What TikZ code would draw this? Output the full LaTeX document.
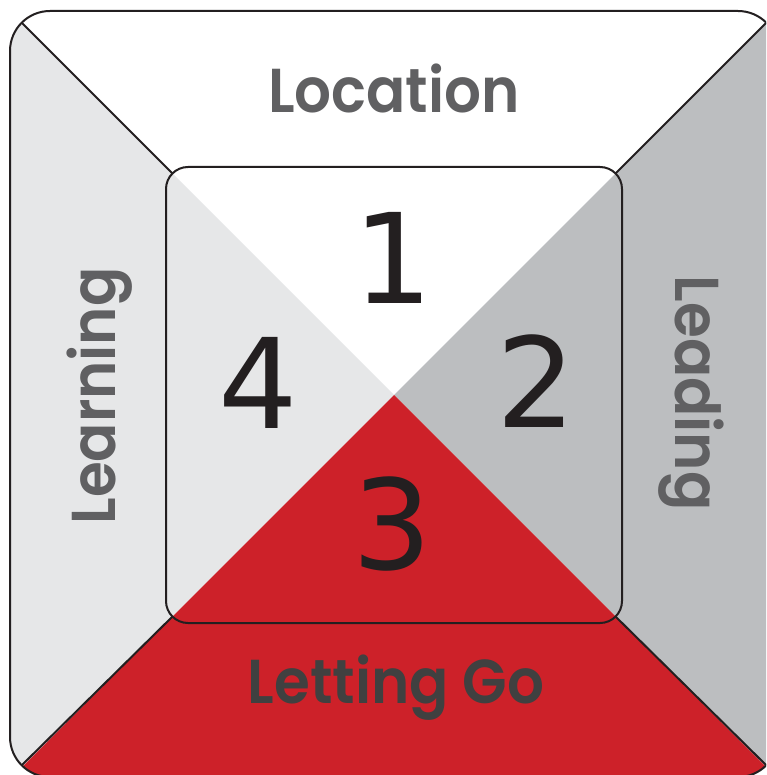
\documentclass[tikz,border=0pt]{standalone}
\usepackage{fontspec}
\newfontfamily\labfont{Poppins}[BoldFont={Poppins SemiBold}, FakeStretch=0.935]
\newfontfamily\numfont{DejaVu Sans}
\definecolor{ink}{HTML}{231F20}
\definecolor{lgray}{HTML}{E6E7E8}
\definecolor{mgray}{HTML}{BCBEC0}
\definecolor{redq}{HTML}{CD2129}
\definecolor{labgray}{HTML}{606062}
\definecolor{labdark}{HTML}{404040}
\begin{document}
\begin{tikzpicture}[x=1pt,y=-1pt,
  outline/.style={draw=ink,line width=2pt},
  lab/.style={font=\labfont\bfseries\fontsize{62}{62}\selectfont, text=labgray, inner sep=0pt, anchor=base},
  num/.style={font=\numfont\fontsize{125}{125}\selectfont, text=ink, inner sep=0pt, anchor=base}]
\useasboundingbox (0,0) rectangle (766,775);
\clip (0,0) rectangle (766,775);
\coordinate (C) at (394,395);
\begin{scope}
  \clip[rounded corners=40pt] (10,11) rectangle (778,777);
  \fill[white] (C) -- ++(-600,-600) -- ++(1200,0) -- cycle;
  \fill[lgray] (C) -- ++(-600,-600) -- ++(0,1200) -- cycle;
  \fill[mgray] (C) -- ++(600,-600) -- ++(0,1200) -- cycle;
  \fill[redq] (C) -- ++(-600,600) -- ++(1200,0) -- cycle;
\end{scope}
\coordinate (oTL) at (21.7,22.7);
\coordinate (iTL) at (172.4,173.4);
\coordinate (oTR) at (766.3,22.7);
\coordinate (iTR) at (615.6,173.4);
\coordinate (oBL) at (21.7,765.3);
\coordinate (iBL) at (172.4,616.6);
\coordinate (oBR) at (766.3,765.3);
\coordinate (iBR) at (615.6,616.6);
\draw[outline] (oTL) -- (iTL);
\draw[outline] (oTR) -- (iTR);
\draw[outline] (oBL) -- (iBL);
\draw[outline] (oBR) -- (iBR);
\draw[outline, rounded corners=40pt] (10,11) rectangle (778,777);
\draw[outline, rounded corners=22pt] (166,167) rectangle (622,623);
\node[lab] (loc) at (394,113) {Location};
\node[lab, text=labdark] (let) at (396,703) {Letting Go};
\node[lab, rotate=90] (lrn) at (115,396) {Learning};
\node[lab, rotate=-90] (lead) at (675,393) {Leading};
\node[num] (n1) at (393,303) {1};
\node[num] (n2) at (536,427) {2};
\node[num] (n3) at (392,569) {3};
\node[num] (n4) at (258,428) {4};
\end{tikzpicture}
\end{document}
